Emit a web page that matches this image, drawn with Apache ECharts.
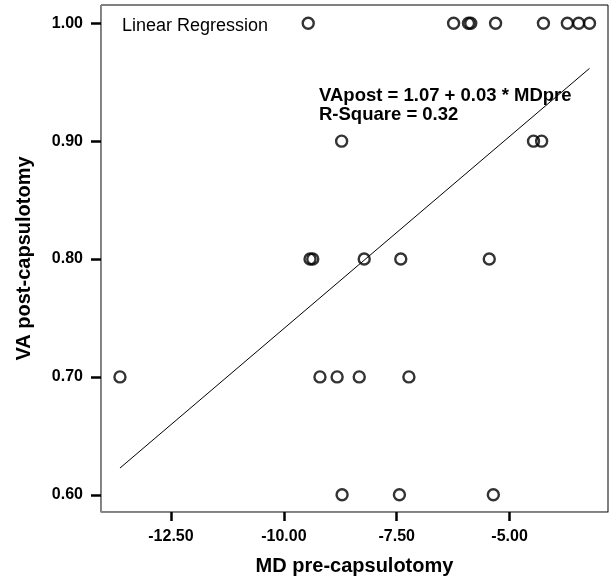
<!DOCTYPE html>
<html>
<head>
<meta charset="utf-8">
<script src="https://cdn.jsdelivr.net/npm/echarts@6/dist/echarts.min.js"></script>
<style>
  html, body { margin: 0; padding: 0; background: #fff; }
  #chart { width: 610px; height: 581px; }
</style>
</head>
<body>
<div id="chart"></div>
<script>
// MD pre-capsulotomy (x) and VA post-capsulotomy (y) per eye
var mdPre = [
  -9.46, -6.24, -5.91, -5.86, -5.31, -4.25, -3.72, -3.47, -3.23,
  -8.72, -4.47, -4.29,
  -9.42, -9.36, -8.22, -7.41, -5.45,
  -13.63, -9.20, -8.82, -8.33, -7.23,
  -8.71, -7.44, -5.36
];
var vaPost = [
  1.00, 1.00, 1.00, 1.00, 1.00, 1.00, 1.00, 1.00, 1.00,
  0.90, 0.90, 0.90,
  0.80, 0.80, 0.80, 0.80, 0.80,
  0.70, 0.70, 0.70, 0.70, 0.70,
  0.60, 0.60, 0.60
];

// fitted regression line: VApost = intercept + slope * MDpre
var fitIntercept = 1.067;
var fitSlope = 0.0326;
var rSquare = 0.32;

var xTicks = [-12.5, -10, -7.5, -5];
var yTicks = [0.6, 0.7, 0.8, 0.9, 1.0];

var FONT = '"Liberation Sans", Arial, Helvetica, sans-serif';

var points = mdPre.map(function (x, i) { return [x, vaPost[i]]; });
var xLo = Math.min.apply(null, mdPre);
var xHi = Math.max.apply(null, mdPre);
var fitLine = [
  [xLo, fitIntercept + fitSlope * xLo],
  [xHi, fitIntercept + fitSlope * xHi]
];

var chart = echarts.init(document.getElementById('chart'), null, { renderer: 'canvas' });

chart.setOption({
  animation: false,
  backgroundColor: '#fff',
  grid: {
    left: 101, right: 2, top: 5, bottom: 68,
    show: true, borderColor: '#000', borderWidth: 1, backgroundColor: 'transparent'
  },
  xAxis: {
    type: 'value',
    min: -14.05, max: -2.82,
    splitLine: { show: false },
    axisLine: { show: true, onZero: false, lineStyle: { color: '#888', width: 1 } },
    axisTick: { show: true, customValues: xTicks, length: 9, lineStyle: { color: '#000', width: 2.5 } },
    axisLabel: {
      customValues: xTicks, margin: 17,
      formatter: function (v) { return v.toFixed(2); },
      fontFamily: FONT, fontWeight: 'bold', fontSize: 16, color: '#000'
    },
    name: 'MD pre-capsulotomy',
    nameLocation: 'middle', nameGap: 44,
    nameTextStyle: { fontFamily: FONT, fontWeight: 'bold', fontSize: 20, color: '#000' }
  },
  yAxis: {
    type: 'value',
    min: 0.5854, max: 1.0155,
    splitLine: { show: false },
    axisLine: { show: true, onZero: false, lineStyle: { color: '#888', width: 1 } },
    axisTick: { show: true, customValues: yTicks, length: 10, lineStyle: { color: '#000', width: 2.5 } },
    axisLabel: {
      customValues: yTicks, margin: 18,
      formatter: function (v) { return v.toFixed(2); },
      fontFamily: FONT, fontWeight: 'bold', fontSize: 16, color: '#000'
    },
    name: 'VA post-capsulotomy',
    nameLocation: 'middle', nameGap: 67,
    nameTextStyle: { fontFamily: FONT, fontWeight: 'bold', fontSize: 20, color: '#000' }
  },
  series: [
    {
      type: 'line',
      data: fitLine,
      symbol: 'none',
      lineStyle: { color: '#000', width: 1 },
      silent: true,
      z: 2
    },
    {
      type: 'scatter',
      data: points,
      symbol: 'circle',
      symbolSize: 11,
      itemStyle: { color: 'transparent', borderColor: '#000', borderWidth: 2.4 },
      z: 3
    }
  ],
  graphic: [
    {
      type: 'text', left: 122, top: 17,
      style: { text: 'Linear Regression', fontFamily: FONT, fontSize: 18, fill: '#000' }
    },
    {
      type: 'text', left: 319, top: 86,
      style: {
        text: 'VApost = ' + fitIntercept.toFixed(2) + ' + ' + fitSlope.toFixed(2) + ' * MDpre\nR-Square = ' + rSquare.toFixed(2),
        fontFamily: FONT, fontWeight: 'bold', fontSize: 18.5, lineHeight: 19, fill: '#000'
      }
    }
  ]
});
</script>
</body>
</html>
